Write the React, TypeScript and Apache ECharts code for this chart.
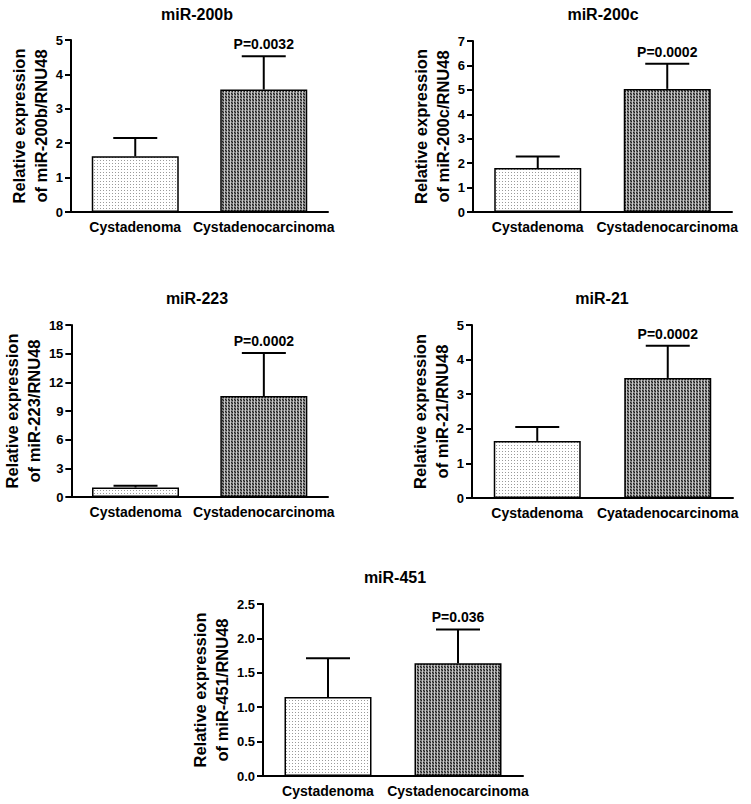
import React, { useEffect, useRef } from "react";
import * as echarts from "echarts";

const categories = ["Cystadenoma", "Cystadenocarcinoma"];
const categories21 = ["Cystadenoma", "Cyatadenocarcinoma"];
const panelTitles = ["miR-200b", "miR-200c", "miR-223", "miR-21", "miR-451"];
const yNames = [
  "Relative expression\nof miR-200b/RNU48",
  "Relative expression\nof miR-200c/RNU48",
  "Relative expression\nof miR-223/RNU48",
  "Relative expression\nof miR-21/RNU48",
  "Relative expression\nof miR-451/RNU48",
];
const pValues = ["P=0.0032", "P=0.0002", "P=0.0002", "P=0.0002", "P=0.036"];

const mir200bMean = [1.62, 3.56];
const mir200bErr = [0.53, 0.97];
const mir200cMean = [1.8, 5.04];
const mir200cErr = [0.47, 1.03];
const mir223Mean = [1.0, 10.56];
const mir223Err = [0.17, 4.5];
const mir21Mean = [1.65, 3.47];
const mir21Err = [0.4, 0.93];
const mir451Mean = [1.15, 1.64];
const mir451Err = [0.56, 0.49];

const yMax = [5, 7, 18, 5, 2.5];
const yInterval = [1, 1, 3, 1, 0.5];

const means = [mir200bMean, mir200cMean, mir223Mean, mir21Mean, mir451Mean];
const errs = [mir200bErr, mir200cErr, mir223Err, mir21Err, mir451Err];
const cats = [categories, categories, categories, categories21, categories];

const FONT = "'Liberation Sans', Arial, Helvetica, sans-serif";

function makeTile(pixels: string[][]) {
  const c = document.createElement("canvas");
  c.width = pixels[0].length;
  c.height = pixels.length;
  const ctx = c.getContext("2d")!;
  for (let y = 0; y < pixels.length; y++) {
    for (let x = 0; x < pixels[y].length; x++) {
      ctx.fillStyle = pixels[y][x];
      ctx.fillRect(x, y, 1, 1);
    }
  }
  return c;
}

export default function App() {
  const ref = useRef<HTMLDivElement>(null);
  useEffect(() => {
    if (!ref.current) return;
    const chart = echarts.init(ref.current, null, { renderer: "svg" });

    const lightTile = makeTile([
      ["#ffffff", "#ffffff", "#ffffff"],
      ["#ffffff", "#9a9a9a", "#ffffff"],
      ["#ffffff", "#ffffff", "#ffffff"],
    ]);
    const darkTile = makeTile([
      ["#222222", "#666666", "#c8c8c8"],
      ["#666666", "#222222", "#c8c8c8"],
      ["#888888", "#888888", "#c8c8c8"],
    ]);
    const lightPattern: any = { image: lightTile, repeat: "repeat", imageWidth: 3, imageHeight: 3 };
    const darkPattern: any = { image: darkTile, repeat: "repeat", imageWidth: 3, imageHeight: 3 };

    const grids = [
      { left: 71, top: 40, width: 257, height: 172 },
      { left: 473, top: 41, width: 259, height: 171 },
      { left: 68, top: 325, width: 260, height: 172 },
      { left: 472, top: 325, width: 261, height: 173 },
      { left: 263, top: 604, width: 260, height: 172 },
    ];
    const titlePos = [
      [197, 15],
      [603, 15],
      [197, 299],
      [602, 299],
      [395, 578],
    ];
    const nameGaps = [12, 11, 17, 10, 21];

    const series: any[] = [];
    for (let i = 0; i < 5; i++) {
      series.push({
        type: "bar",
        xAxisIndex: i,
        yAxisIndex: i,
        barWidth: 87,
        data: means[i].map((v, k) => ({
          value: v,
          itemStyle: {
            color: k === 0 ? lightPattern : darkPattern,
            borderColor: "#000",
            borderWidth: 1.5,
          },
        })),
      });
      const pLabel = pValues[i];
      series.push({
        type: "custom",
        xAxisIndex: i,
        yAxisIndex: i,
        data: means[i].map((v, k) => [k, v, errs[i][k]]),
        renderItem: (params: any, api: any) => {
          const x = api.value(0);
          const m = api.value(1);
          const e = api.value(2);
          const p0 = api.coord([x, m]);
          const p1 = api.coord([x, m + e]);
          const children: any[] = [
            {
              type: "line",
              shape: { x1: p0[0], y1: p0[1], x2: p1[0], y2: p1[1] },
              style: { stroke: "#000", lineWidth: 2 },
            },
            {
              type: "line",
              shape: { x1: p1[0] - 22, y1: p1[1], x2: p1[0] + 22, y2: p1[1] },
              style: { stroke: "#000", lineWidth: 2 },
            },
          ];
          if (params.dataIndex === 1) {
            children.push({
              type: "text",
              x: p1[0],
              y: p1[1] - 12,
              style: {
                text: pLabel,
                fill: "#000",
                font: `bold 14px ${FONT}`,
                align: "center",
                verticalAlign: "middle",
              },
            });
          }
          return { type: "group", children };
        },
        z: 5,
      });
    }

    const option: any = {
      animation: false,
      backgroundColor: "#fff",
      title: panelTitles.map((t, i) => ({
        text: t,
        left: titlePos[i][0],
        top: titlePos[i][1] - 9,
        textAlign: "center",
        padding: 0,
        textStyle: { fontFamily: FONT, fontWeight: "bold", fontSize: 16, color: "#000" },
      })),
      grid: grids.map((g) => ({ ...g, containLabel: false })),
      xAxis: grids.map((_, i) => ({
        type: "category",
        gridIndex: i,
        data: cats[i],
        axisLine: { lineStyle: { color: "#000", width: 2 } },
        axisTick: { show: false },
        axisLabel: {
          interval: 0,
          margin: 8,
          color: "#000",
          fontFamily: FONT,
          fontWeight: "bold",
          fontSize: 14,
        },
      })),
      yAxis: grids.map((_, i) => ({
        type: "value",
        gridIndex: i,
        min: 0,
        max: yMax[i],
        interval: yInterval[i],
        name: yNames[i],
        nameLocation: "middle",
        nameGap: nameGaps[i],
        nameTextStyle: {
          fontFamily: FONT,
          fontWeight: "bold",
          fontSize: 16.5,
          lineHeight: 22,
          color: "#000",
        },
        splitLine: { show: false },
        axisLine: { show: true, lineStyle: { color: "#000", width: 2 } },
        axisTick: { show: true, length: 6, lineStyle: { color: "#000", width: 2 } },
        axisLabel: {
          margin: 8,
          color: "#000",
          fontFamily: FONT,
          fontWeight: "bold",
          fontSize: 13,
          formatter: (v: number) => (i === 4 ? v.toFixed(1) : String(v)),
        },
      })),
      series,
    };
    chart.setOption(option);
    return () => chart.dispose();
  }, []);
  return (
    <div
      ref={ref}
      style={{ position: "absolute", left: 0, top: 0, width: 751, height: 804 }}
    />
  );
}
